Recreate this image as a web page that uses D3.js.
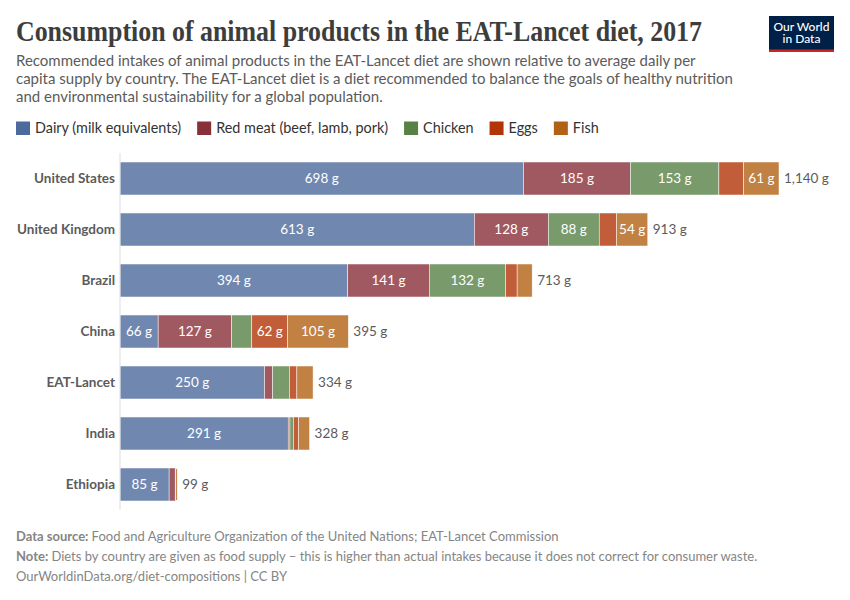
<!DOCTYPE html>
<html>
  <head>
    <meta charset='UTF-8'/>
    <script src="https://cdn.jsdelivr.net/npm/d3@7"></script>
    <style>
      html, body { margin: 0; padding: 0; background: #fff; }
      text { font-family: Lato, sans-serif; }
      .title { font-family: "Liberation Serif", serif; font-weight: 700; font-size: 29px; fill: #3d3d3d; }
      .subtitle { font-size: 15px; fill: #5b5b5b; }
      .legend { font-size: 14.4px; fill: #333; }
      .cat { font-size: 13.5px; font-weight: 700; fill: #5b5b5b; text-anchor: end; }
      .val { font-size: 13.5px; fill: #fff; text-anchor: middle; }
      .total { font-size: 13.5px; fill: #5b5b5b; }
      .foot { font-size: 13px; fill: #858585; }
    </style>
  </head>
  <body>
    <svg id='fig' width='850' height='600'></svg>
    <script>
      const countries = ["United States", "United Kingdom", "Brazil", "China", "EAT-Lancet", "India", "Ethiopia"]
      const foods = ["Dairy (milk equivalents)", "Red meat (beef, lamb, pork)", "Chicken", "Eggs", "Fish"]
      const colors = ["#4c6a9c", "#883039", "#578145", "#b13507", "#b16214"]

      // grams per day
      const dairy = [698, 613, 394, 66, 250, 291, 85]
      const redMeat = [185, 128, 141, 127, 14, 3, 10.5]
      const chicken = [153, 88, 132, 35, 29, 6, 0.5]
      const eggs = [43, 30, 20, 62, 13, 9, 0.5]
      const fish = [61, 54, 26, 105, 28, 19, 2.5]
      const totals = [1140, 913, 713, 395, 334, 328, 99]

      const subtitle = [
        "Recommended intakes of animal products in the EAT-Lancet diet are shown relative to average daily per",
        "capita supply by country. The EAT-Lancet diet is a diet recommended to balance the goals of healthy nutrition",
        "and environmental sustainability for a global population."
      ]

      const svg = d3.select("#fig")
      const series = [dairy, redMeat, chicken, eggs, fish]
      const fmt = d3.format(",")

      const x = d3.scaleLinear().domain([0, 1140]).range([120, 779])
      const y = d3.scaleBand().domain(countries).range([153, 510]).paddingInner(18 / 51).paddingOuter(9 / 51)

      svg.append("text").attr("class", "title").attr("x", 16).attr("y", 41)
        .attr("textLength", 686).attr("lengthAdjust", "spacingAndGlyphs")
        .text("Consumption of animal products in the EAT-Lancet diet, 2017")

      svg.selectAll(".subtitle").data(subtitle).join("text")
        .attr("class", "subtitle").attr("x", 16).attr("y", (d, i) => 66 + i * 18.2).text(d => d)

      // logo
      const logo = svg.append("g")
      logo.append("rect").attr("x", 769).attr("y", 16).attr("width", 65).attr("height", 36).attr("fill", "#002147")
      logo.append("rect").attr("x", 769).attr("y", 49.5).attr("width", 65).attr("height", 2.5).attr("fill", "#ce261e")
      const logoText = logo.append("text").attr("text-anchor", "middle")
        .attr("fill", "#fff").attr("font-size", 12).attr("font-weight", 500)
      logoText.append("tspan").attr("x", 801.5).attr("y", 31).text("Our World")
      logoText.append("tspan").attr("x", 801.5).attr("dy", 12.3).text("in Data")

      // legend
      let lx = 16
      foods.forEach((f, i) => {
        svg.append("rect").attr("x", lx).attr("y", 121.5).attr("width", 14).attr("height", 13.5).attr("fill", colors[i])
        const t = svg.append("text").attr("class", "legend").attr("x", lx + 19).attr("y", 133).text(f)
        lx += 19 + t.node().getComputedTextLength() + 16
      })

      // bars
      countries.forEach((c, i) => {
        let s = 0
        series.forEach((vals, k) => {
          const v = vals[i], x0 = x(s), w = x(s + v) - x0
          svg.append("rect").attr("x", x0).attr("y", y(c)).attr("width", w).attr("height", y.bandwidth())
            .attr("fill", colors[k]).attr("fill-opacity", 0.8).attr("stroke", "#fff").attr("stroke-width", 0.5)
          const t = svg.append("text").attr("class", "val").attr("x", x0 + w / 2)
            .attr("y", y(c) + y.bandwidth() / 2 + 4.5).text(v + " g")
          if (t.node().getComputedTextLength() > w - 3) t.remove()
          s += v
        })
        svg.append("text").attr("class", "cat").attr("x", 115).attr("y", y(c) + y.bandwidth() / 2 + 4.5).text(c)
        svg.append("text").attr("class", "total").attr("x", x(totals[i]) + 5)
          .attr("y", y(c) + y.bandwidth() / 2 + 4.5).text(fmt(totals[i]) + " g")
      })

      svg.append("line").attr("x1", 120).attr("x2", 120).attr("y1", 153).attr("y2", 510)
        .attr("stroke", "#ddd").attr("stroke-width", 1)

      // footer
      const foot = [
        ["Data source: ", "Food and Agriculture Organization of the United Nations; EAT-Lancet Commission"],
        ["Note: ", "Diets by country are given as food supply – this is higher than actual intakes because it does not correct for consumer waste."],
        ["", "OurWorldinData.org/diet-compositions | CC BY"]
      ]
      foot.forEach((f, i) => {
        const t = svg.append("text").attr("class", "foot").attr("x", 16).attr("y", 541 + i * 20)
        if (f[0]) t.append("tspan").attr("font-weight", 700).text(f[0])
        t.append("tspan").text(f[1])
      })
    </script>
  </body>
</html>
